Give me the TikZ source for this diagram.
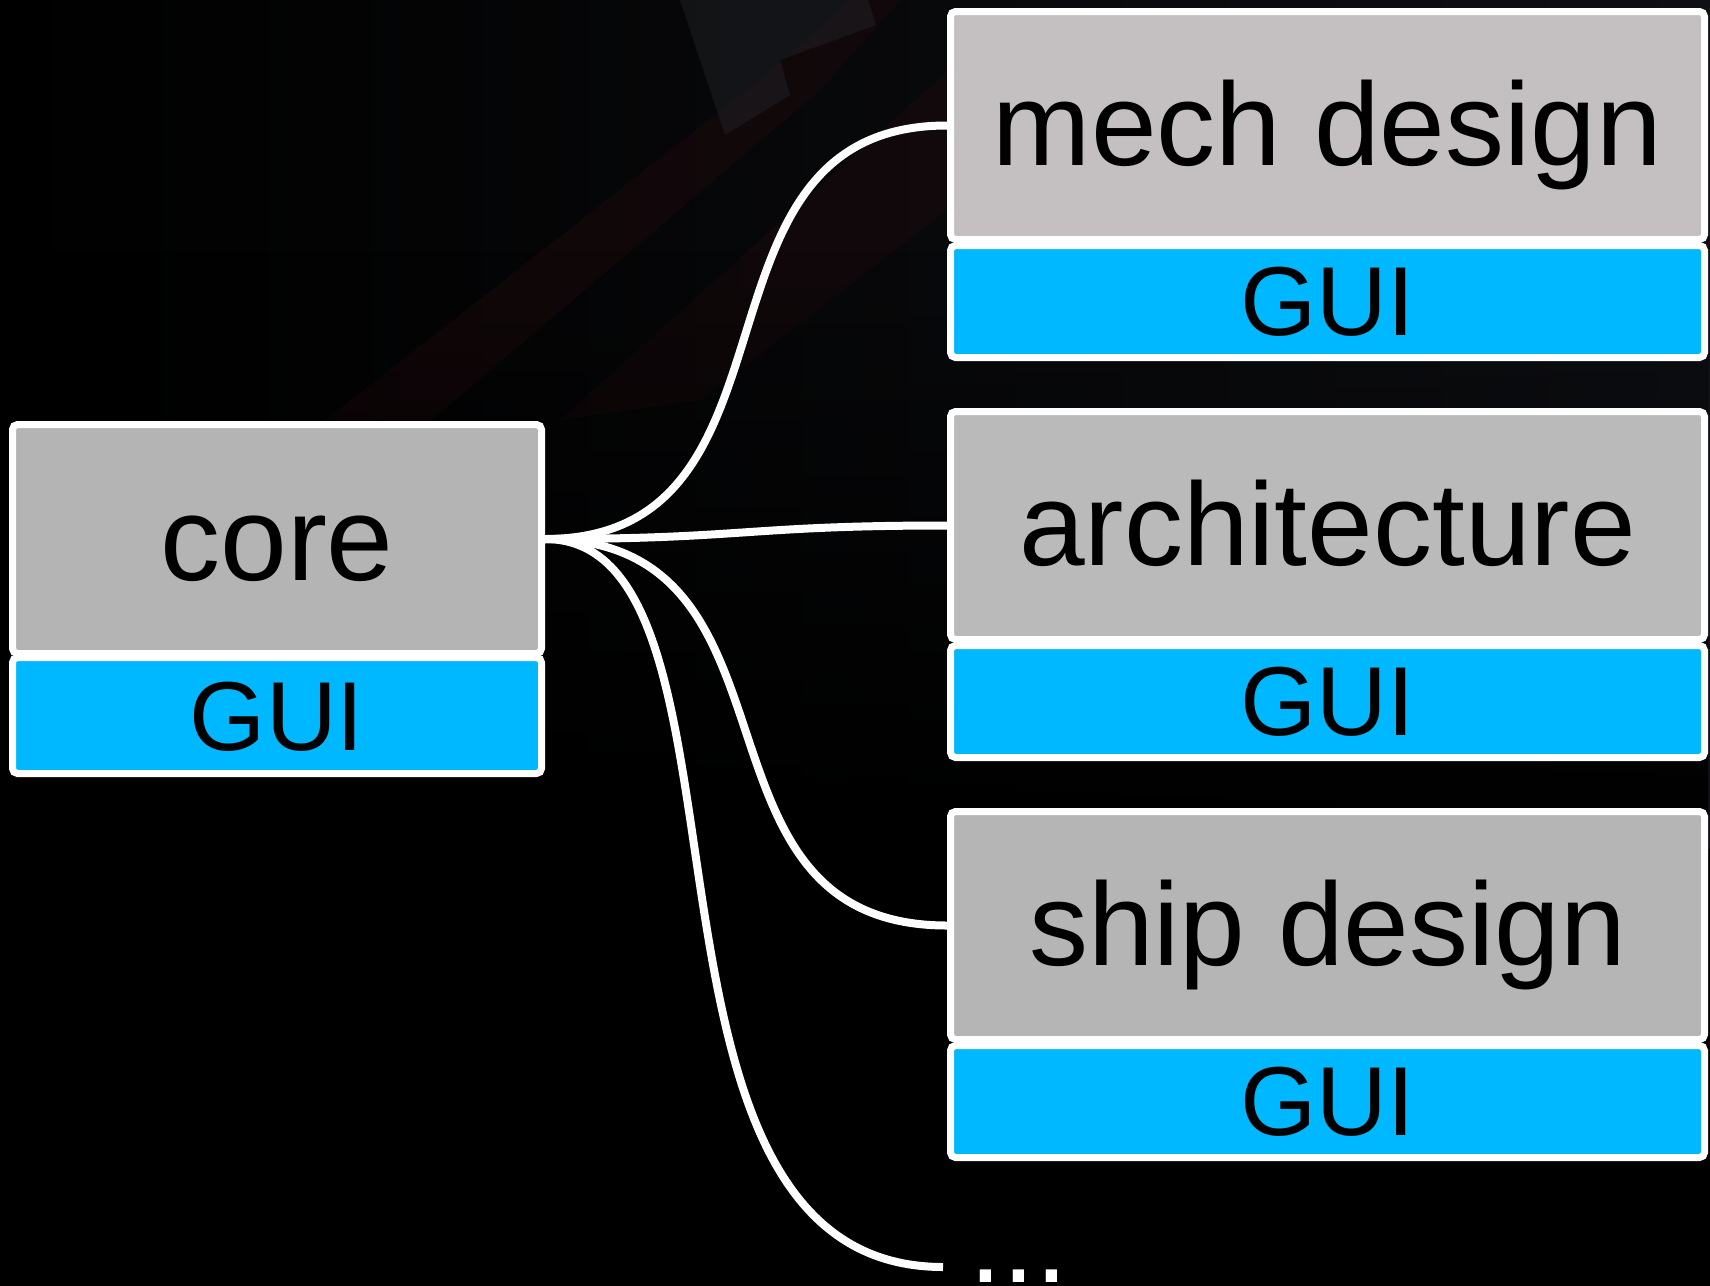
\documentclass[tikz,border=0pt]{standalone}
\usepackage{fontspec}
\setmainfont{Liberation Sans}
\usetikzlibrary{fadings}
\definecolor{guiblue}{RGB}{0,184,255}
\definecolor{coregray}{RGB}{180,180,180}
\definecolor{mechgray}{RGB}{196,192,194}
\definecolor{archgray}{RGB}{186,186,187}
\definecolor{shipgray}{RGB}{181,181,181}
\definecolor{bgtop}{RGB}{15,16,20}
\definecolor{bandred}{RGB}{34,10,13}
\definecolor{shardgray}{RGB}{32,33,37}
\begin{document}
\begin{tikzpicture}[x=0.5pt,y=-0.5pt,
  box/.style={draw=white,line width=3.5pt,rounded corners=2.5pt,inner sep=0pt,text=black},
  coretop/.style={box,fill=coregray,minimum width=264.5pt,minimum height=114.5pt,
    font=\fontsize{60}{60}\selectfont,text height=41pt,text depth=0pt},
  coregui/.style={box,fill=guiblue,minimum width=264.5pt,minimum height=58pt,
    font=\fontsize{49}{49}\selectfont,text height=34.5pt,text depth=0pt},
  apptop/.style={box,minimum width=377pt,minimum height=114pt,
    font=\fontsize{59}{59}\selectfont,text height=39.5pt,text depth=0pt},
  appgui/.style={box,fill=guiblue,minimum width=377pt,minimum height=56pt,
    font=\fontsize{49}{49}\selectfont,text height=33.5pt,text depth=0pt},
  wire/.style={draw=white,line width=4pt}
]
\useasboundingbox (0,0) rectangle (1710,1286);
% background
\shade[left color=black,right color=bgtop] (0,0) rectangle (1710,1286);
\fill[bandred,opacity=0.4] (850,0) -- (900,0) -- (820,90) -- (420,430) -- (300,440) -- (760,80) -- cycle;
\fill[bandred,opacity=0.35] (960,60) -- (960,200) -- (700,400) -- (560,420) -- cycle;
\fill[shardgray,opacity=0.5] (680,0) -- (868,0) -- (876,25) -- (780,60) -- (790,95) -- (725,135) -- cycle;
\fill[black,path fading=north] (0,250) rectangle (1710,850);
\fill[black] (0,849) rectangle (1710,1286);

% boxes
\node[coretop] (core) at (277,539) {core};
\node[coregui] (coreGUI) at (277,715.5) {GUI};

\node[apptop,fill=mechgray] (mech) at (1327.5,125.5) {mech design};
\node[appgui] (mechGUI) at (1327.5,301.5) {GUI};
\node[apptop,fill=archgray] (arch) at (1327.5,525.5) {architecture};
\node[appgui] (archGUI) at (1327.5,701.5) {GUI};
\node[apptop,fill=shipgray] (ship) at (1327.5,925.5) {ship design};
\node[appgui] (shipGUI) at (1327.5,1101.5) {GUI};

\node[anchor=base west,inner sep=0pt,text=white,font=\fontsize{59}{59}\selectfont] (dots) at (969,1282) {...};
\coordinate (dotsend) at (943,1267);

% connectors
\draw[wire] (core.east) .. controls +(273,0) and +(-273,0) .. (mech.west);
\draw[wire] (core.east) .. controls +(200,0) and +(-200,0) .. (arch.west);
\draw[wire] (core.east) .. controls +(273,0) and +(-273,0) .. (ship.west);
\draw[wire] (core.east) .. controls +(230,0) and +(-340,0) .. (dotsend);
\end{tikzpicture}
\end{document}
